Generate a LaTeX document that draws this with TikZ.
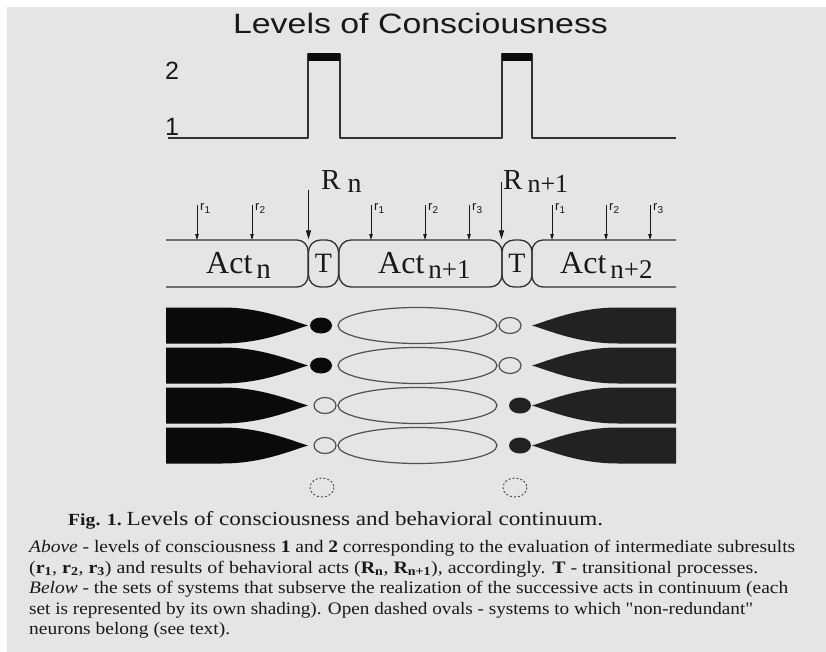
\documentclass[tikz,border=0pt]{standalone}
\usepackage{fontspec}
\usepackage{graphicx}
\setmainfont{Liberation Serif}[Ligatures=TeXOff]
\newfontfamily\sansf{Liberation Sans}
\usetikzlibrary{arrows.meta}
\definecolor{bg}{RGB}{229,229,229}
\definecolor{ink}{RGB}{50,50,50}
\definecolor{txt}{RGB}{25,25,25}
\definecolor{blk}{RGB}{10,10,10}
\definecolor{dgray}{RGB}{34,34,34}
\newcommand{\fs}[1]{\fontsize{#1}{#1}\selectfont}
\newcommand{\hfit}[2]{\resizebox{#1}{\height}{#2}}
\begin{document}
\begin{tikzpicture}[x=1pt,y=-1pt,line join=round,
  lvl/.style={draw=ink,line width=1.4pt},
  actline/.style={draw=ink,line width=1.3pt},
  bigarrow/.style={draw=txt,line width=1.2pt,-{Triangle[length=9pt,width=5pt]}},
  smallarrow/.style={draw=txt,line width=0.9pt,-{Triangle[length=6pt,width=3.5pt]}},
  oval/.style={draw=ink!85,line width=1.2pt},
  lbl/.style={anchor=base west,inner sep=0,text=txt},
  captext/.style={anchor=base west,inner sep=0,text=txt,font={\fs{17.5}}},
  tbox/.style={draw=ink,line width=1.3pt,rounded corners=12pt,inner sep=0,
               minimum width=30pt,minimum height=47pt,text=txt,font={\fs{28}}}]
\useasboundingbox (0,0) rectangle (826,652);
\fill[white] (0,0) rectangle (826,652);
\fill[bg] (7,7) rectangle (826,652);

% title
\node[anchor=base,inner sep=0,text=txt,font={\sansf\fs{28}}] (title) at (420.5,34)
  {\hfit{375pt}{Levels of Consciousness}};

% levels of consciousness graph
\node[lbl,font={\sansf\fs{25}}] (lv2) at (165,80) {2};
\node[lbl,font={\sansf\fs{25}}] (lv1) at (165,136) {1};
\draw[lvl] (168,138) -- (308,138) -- (308,54) -- (340,54) -- (340,138)
  -- (502,138) -- (502,54) -- (532,54) -- (532,138) -- (676,138);
\fill[blk] (308,53) rectangle (340,61);
\fill[blk] (502,53) rectangle (532,61);

% acts row
\draw[actline,rounded corners=11pt] (166,240) -- (308,240) -- (308,287) -- (166,287);
\node[tbox] (t1) at (323.5,263.5) {T};
\node[draw=ink,line width=1.3pt,rounded corners=12pt,inner sep=0,
      minimum width=163pt,minimum height=47pt] (act1) at (420.5,263.5) {};
\node[tbox] (t2) at (517,263.5) {T};
\draw[actline,rounded corners=11pt] (676,240) -- (532,240) -- (532,287) -- (676,287);

\node[lbl,font={\fs{32}}] (actn) at (206,273) {Act\hspace{4pt}\raisebox{-5pt}{\fs{29}n}};
\node[lbl,font={\fs{32}}] (actn1) at (378,273) {Act\hspace{4pt}\raisebox{-5pt}{\fs{27}n+1}};
\node[lbl,font={\fs{32}}] (actn2) at (560,273) {Act\hspace{4pt}\raisebox{-5pt}{\fs{27}n+2}};

% results R
\node[lbl,font={\fs{29}}] (Rn) at (321,190) {R\hspace{7pt}\raisebox{-3pt}{\fs{28}n}};
\node[lbl,font={\fs{29}}] (Rn1) at (503,190) {R\hspace{5pt}\raisebox{-3pt}{\fs{26}n+1}};
\coordinate (rnA) at (308.5,190);
\coordinate (rnB) at (501.5,182);
\draw[bigarrow] (rnA) -- (rnA |- t1.north);
\draw[bigarrow] (rnB) -- (rnB |- t2.north);

% subresults r
\foreach \x/\k in {197/1,252/2,371/1,425/2,469/3,552/1,606/2,650/3}{
  \coordinate (ra\x) at (\x,205);
  \draw[smallarrow] (ra\x) -- (\x,240);
  \node[anchor=north west,inner sep=0,text=txt,font={\sansf\fs{13}}] (rl\x) at (\x+3,203)
    {r\raisebox{-3pt}{\fs{10}\k}};
}

% systems rows
\foreach \c/\lf in {325.5/1,365.5/1,405.5/0,445.5/0}{
  \fill[blk] (166,\c-18) -- (222,\c-18) .. controls (262,\c-18) and (291,\c-5) .. (308,\c)
     .. controls (291,\c+5) and (262,\c+18) .. (222,\c+18) -- (166,\c+18) -- cycle;
  \fill[dgray] (676,\c-18) -- (618,\c-18) .. controls (578,\c-18) and (549,\c-5) .. (532,\c)
     .. controls (549,\c+5) and (578,\c+18) .. (618,\c+18) -- (676,\c+18) -- cycle;
  \draw[oval] (417.5,\c) ellipse [x radius=79.5,y radius=18];
  \ifnum\lf=1
    \fill[blk] (321,\c) ellipse [x radius=11,y radius=8];
    \draw[oval] (510,\c) ellipse [x radius=11,y radius=8];
  \else
    \draw[oval] (325,\c) ellipse [x radius=11,y radius=8];
    \fill[dgray] (520,\c) ellipse [x radius=11,y radius=8];
  \fi
}
\draw[oval,line width=1pt,dash pattern=on 2pt off 2pt] (322,487.5) ellipse [x radius=12,y radius=9.5];
\draw[oval,line width=1pt,dash pattern=on 2pt off 2pt] (515,487.5) ellipse [x radius=12,y radius=9.5];

% caption
\node[captext] (c1) at (68,525) {\hfit{535pt}{\fs{17}\textbf{Fig. 1.}\ \fs{20}Levels of consciousness and behavioral continuum.}};
\node[captext] (c2) at (29,552.5) {\hfit{766pt}{\textit{Above} - levels of consciousness \textbf{1} and \textbf{2} corresponding to the evaluation of intermediate subresults}};
\node[captext] (c3) at (29,573) {\hfit{729pt}{(\textbf{r\textsubscript{1}}, \textbf{r\textsubscript{2}}, \textbf{r\textsubscript{3}}) and results of behavioral acts (\textbf{R\textsubscript{n}}, \textbf{R\textsubscript{n+1}}), accordingly. \textbf{T} - transitional processes.}};
\node[captext] (c4) at (29,593.5) {\hfit{759pt}{\textit{Below} - the sets of systems that subserve the realization of the successive acts in continuum (each}};
\node[captext] (c5) at (29,614) {\hfit{724pt}{set is represented by its own shading). Open dashed ovals - systems to which "non-redundant"}};
\node[captext] (c6) at (29,634.5) {\hfit{201pt}{neurons belong (see text).}};
\end{tikzpicture}
\end{document}
